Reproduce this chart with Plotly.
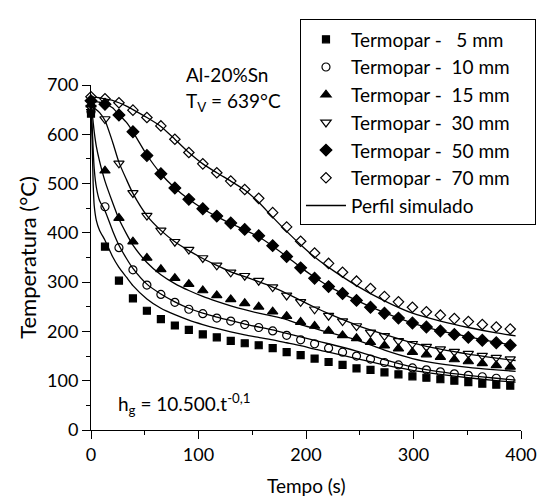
import plotly.graph_objects as go

# Experimental thermocouple readings (time in s, temperature in °C)
t_exp = [0, 13, 26, 39, 52, 65, 78, 91, 104, 117, 130, 143, 156, 169, 182, 195,
         208, 221, 234, 247, 260, 273, 286, 299, 312, 325, 338, 351, 364, 377, 390]

T5 = [642, 372, 303, 267, 242, 225, 212, 203, 194, 188, 181, 176, 172, 166, 158, 152,
      145, 138, 132, 125, 122, 117, 113, 109, 106, 103, 100, 97, 94, 92, 90]
T10 = [646, 453, 370, 325, 294, 275, 259, 245, 236, 227, 221, 214, 208, 201, 192, 183,
       175, 166, 158, 150, 144, 137, 132, 126, 122, 118, 114, 111, 108, 105, 102]
T15 = [660, 526, 430, 382, 349, 326, 308, 296, 283, 273, 265, 257, 250, 240, 231, 219,
       211, 201, 192, 186, 178, 171, 165, 158, 153, 148, 143, 139, 135, 131, 128]
T30 = [654, 631, 541, 481, 435, 405, 382, 366, 349, 334, 320, 313, 303, 290, 273, 260,
       245, 232, 221, 211, 198, 191, 181, 175, 169, 164, 159, 155, 151, 147, 144]
T50 = [668, 661, 639, 605, 557, 520, 491, 468, 449, 434, 420, 407, 394, 374, 352, 329,
       308, 291, 277, 263, 249, 237, 227, 217, 209, 201, 194, 188, 182, 177, 172]
T70 = [676, 672, 664, 649, 634, 617, 590, 563, 540, 522, 505, 488, 470, 441, 412, 383,
       359, 338, 320, 302, 287, 271, 260, 249, 240, 233, 226, 220, 214, 209, 205]

# Simulated profiles
t_sim = [0, 1, 2, 3, 5, 8, 13, 20, 26, 33, 39, 52, 65, 78, 91, 104, 117, 130, 143,
         156, 169, 182, 195, 208, 221, 247, 273, 299, 325, 351, 377, 395]
S5 = [648, 590, 500, 455, 425, 405, 385, 352, 330, 310, 293, 266, 247, 234, 223, 214,
      206, 199, 193, 188, 183, 177, 171, 164, 158, 145, 132, 121, 113, 106, 100, 97]
S10 = [650, 620, 570, 530, 492, 465, 445, 405, 375, 348, 328, 296, 276, 260, 247, 237,
       229, 222, 215, 209, 203, 196, 189, 182, 175, 160, 143, 128, 118, 111, 105, 101]
S15 = [660, 645, 625, 605, 575, 545, 505, 462, 428, 398, 375, 340, 315, 297, 283, 271,
       261, 252, 244, 237, 231, 224, 214, 206, 198, 183, 162, 145, 134, 127, 122, 119]
S30 = [656, 655, 654, 653, 650, 644, 628, 585, 543, 508, 480, 435, 405, 382, 364, 348,
       334, 321, 311, 301, 290, 277, 263, 249, 236, 213, 194, 177, 164, 154, 146, 141]
S50 = [668, 668, 667, 667, 666, 665, 662, 654, 640, 624, 605, 558, 520, 491, 468, 449,
       433, 419, 406, 392, 373, 352, 330, 310, 292, 263, 238, 217, 201, 189, 178, 172]
S70 = [676, 676, 676, 675, 675, 674, 672, 669, 664, 657, 650, 634, 616, 590, 563, 540,
       522, 505, 487, 462, 432, 403, 376, 351, 330, 293, 262, 237, 221, 208, 197, 191]

labels = ["Termopar -\u00a0\u00a0 5 mm", "Termopar -\u00a0 10 mm", "Termopar -\u00a0 15 mm",
          "Termopar -\u00a0 30 mm", "Termopar -\u00a0 50 mm", "Termopar -\u00a0 70 mm"]
symbols = ["square", "circle-open", "triangle-up", "triangle-down-open", "diamond", "diamond-open"]
sizes = [7, 8, 9, 9, 9, 8]
exp_series = [T5, T10, T15, T30, T50, T70]
sim_series = [S5, S10, S15, S30, S50, S70]

PAD = "\u00a0\u00a0\u00a0\u00a0"
FONT = "Lato, 'Open Sans', sans-serif"
fig = go.Figure()

for i, S in enumerate(sim_series):
    fig.add_trace(go.Scatter(
        x=t_sim, y=S, mode="lines", line=dict(color="black", width=1.3, shape="spline", smoothing=0.6),
        name="Perfil simulado" + PAD, showlegend=(i == 0), legendrank=100, cliponaxis=False,
    ))

for i, T in enumerate(exp_series):
    fig.add_trace(go.Scatter(
        x=t_exp, y=T, mode="markers", name=labels[i] + PAD, legendrank=i + 1, cliponaxis=False,
        marker=dict(symbol=symbols[i], size=sizes[i], color="black",
                    line=dict(color="black", width=1.2)),
    ))

# The page body adds an 8 px offset, so the figure is 540x490 inside the 548x498 window.
fig.update_layout(
    width=540, height=490,
    margin=dict(l=83, r=21, t=68, b=68),
    paper_bgcolor="white", plot_bgcolor="white",
    font=dict(family=FONT, size=18, color="black"),
    legend=dict(
        x=0.486, y=1.19, xanchor="left", yanchor="top",
        bordercolor="black", borderwidth=1, bgcolor="white",
        font=dict(size=19), tracegroupgap=0, itemwidth=40,
    ),
    xaxis=dict(
        range=[0, 400], tickvals=[0, 100, 200, 300, 400], showline=True, linecolor="black",
        linewidth=1, ticks="outside", ticklen=8, tickcolor="black", showgrid=False,
        zeroline=False, minor=dict(dtick=50, ticks="outside", ticklen=4, tickcolor="black"),
    ),
    yaxis=dict(
        range=[0, 700], tickvals=[0, 100, 200, 300, 400, 500, 600, 700], showline=True,
        linecolor="black", linewidth=1, ticks="outside", ticklen=8, tickcolor="black",
        showgrid=False, zeroline=False,
        minor=dict(dtick=50, ticks="outside", ticklen=4, tickcolor="black"),
        title=dict(text="Temperatura (°C)", standoff=4),
    ),
    annotations=[
        dict(x=0.5, y=0, xref="paper", yref="paper", yshift=-55, text="Tempo (s)",
             showarrow=False, xanchor="center", yanchor="middle", font=dict(size=19)),
        dict(x=0.216, y=1.031, xref="paper", yref="paper", text="Al-20%Sn", showarrow=False,
             xanchor="left", yanchor="middle", font=dict(size=19)),
        dict(x=0.216, y=0.952, xref="paper", yref="paper", text="T<sub>V</sub> = 639°C",
             showarrow=False, xanchor="left", yanchor="middle", font=dict(size=19)),
        dict(x=0.059, y=0.075, xref="paper", yref="paper",
             text="h<sub>g</sub> = 10.500.t<sup>-0,1</sup>",
             showarrow=False, xanchor="left", yanchor="middle", font=dict(size=19)),
    ],
)

fig.write_html("out.html")
